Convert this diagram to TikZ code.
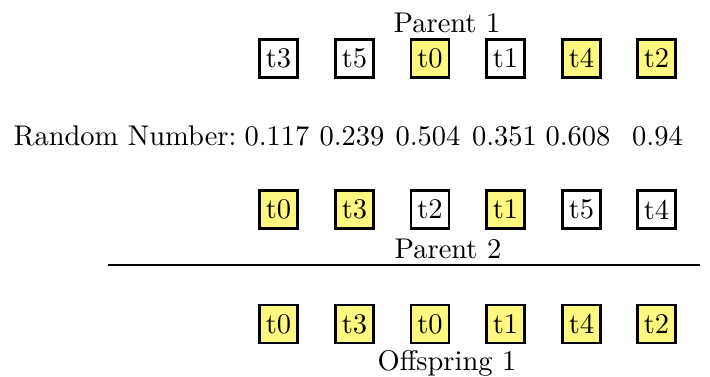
\documentclass[tikz,border=0pt]{standalone}
\tikzset{
  gene/.style={draw=black, line width=0.8pt, inner sep=0pt, minimum width=13.4pt, minimum height=13.4pt, font=\normalsize},
  hit/.style={gene, fill=yellow!50},
  miss/.style={gene, fill=white},
  lbl/.style={anchor=base, inner sep=0pt, font=\normalsize},
}
\begin{document}
\begin{tikzpicture}[x=0.3509pt, y=-0.3509pt]
  \useasboundingbox (0,0) rectangle (710,376);
  % Parent 1
  \node[lbl] (p1) at (447,32) {Parent 1};
  \node[miss] (a1) at (278.5,58.5) {t3};
  \node[miss] (a2) at (354.5,58.5) {t5};
  \node[hit]  (a3) at (430,58.5) {t0};
  \node[miss] (a4) at (505.5,58.5) {t1};
  \node[hit]  (a5) at (581.5,58.5) {t4};
  \node[hit]  (a6) at (656.5,58.5) {t2};
  % Random numbers
  \node[lbl, anchor=base west] (rn) at (13,145) {Random Number:};
  \node[lbl] (r1) at (277,145) {0.117};
  \node[lbl] (r2) at (352,145) {0.239};
  \node[lbl] (r3) at (428,145) {0.504};
  \node[lbl] (r4) at (504.5,145) {0.351};
  \node[lbl] (r5) at (578,145) {0.608};
  \node[lbl] (r6) at (657.5,145) {0.94};
  % Parent 2
  \node[hit]  (b1) at (278.5,209.5) {t0};
  \node[hit]  (b2) at (354.5,209.5) {t3};
  \node[miss] (b3) at (430,209.5) {t2};
  \node[hit]  (b4) at (505.5,209.5) {t1};
  \node[miss] (b5) at (581.5,209.5) {t5};
  \node[miss] (b6) at (656.5,209.5) {t4};
  \node[lbl] (p2) at (448,258) {Parent 2};
  % separator
  \coordinate (l1) at (108,265);
  \coordinate (l2) at (700,265);
  \draw[line width=0.5pt] (l1) -- (l2);
  % Offspring
  \node[hit] (c1) at (278.5,324) {t0};
  \node[hit] (c2) at (354.5,324) {t3};
  \node[hit] (c3) at (430,324) {t0};
  \node[hit] (c4) at (505.5,324) {t1};
  \node[hit] (c5) at (581.5,324) {t4};
  \node[hit] (c6) at (656.5,324) {t2};
  \node[lbl] (o1) at (447,370) {Offspring 1};
\end{tikzpicture}
\end{document}
